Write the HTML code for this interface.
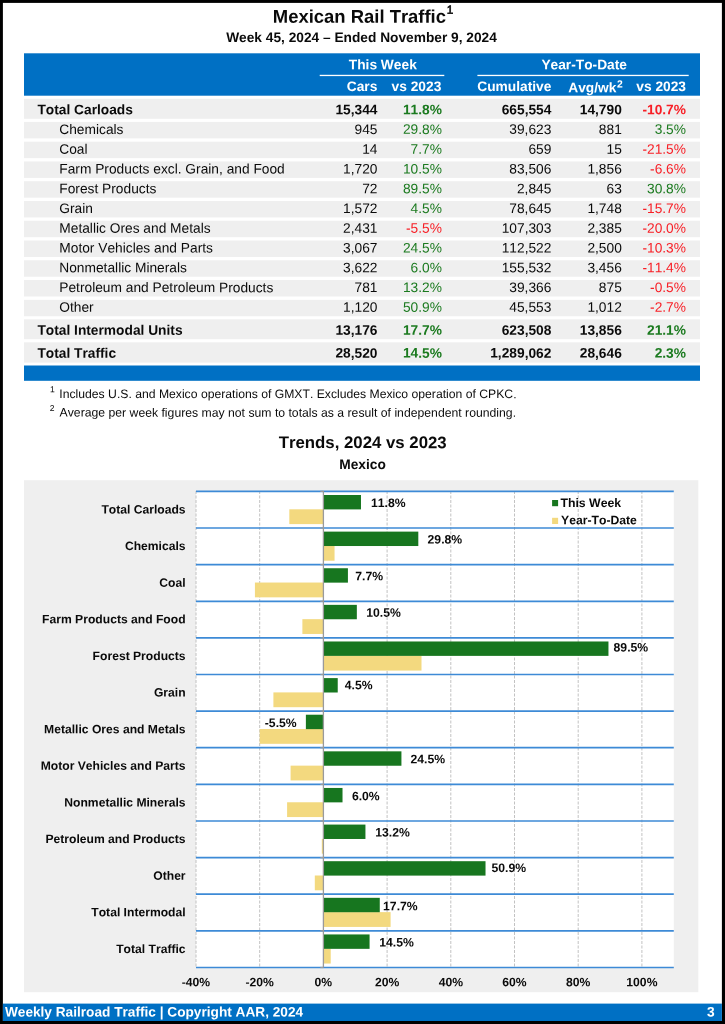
<!DOCTYPE html>
<html lang="en"><head><meta charset="utf-8"><title>Mexican Rail Traffic</title>
<style>
html,body{margin:0;padding:0;background:#fff;}
body{width:725px;height:1024px;position:relative;overflow:hidden;}
#page{position:absolute;left:0;top:0;width:725px;height:1024px;will-change:transform;}
svg{position:absolute;left:0;top:0;display:block;}
svg text{font-family:"Liberation Sans",sans-serif;white-space:pre;font-variant-ligatures:none;font-kerning:none;}
</style></head><body>
<div id="page">
<svg width="725" height="1024" viewBox="0 0 725 1024" font-size="13.75" fill="#0a0a0a">
<rect x="0.00" y="0.00" width="725.00" height="2.90" fill="#000"/>
<rect x="0.00" y="1021.00" width="725.00" height="3.00" fill="#000"/>
<rect x="0.00" y="0.00" width="2.90" height="1024.00" fill="#000"/>
<rect x="721.90" y="0.00" width="3.10" height="1024.00" fill="#000"/>
<text x="359.40" y="22.80" transform="rotate(0.03 359.40 22.80)" text-anchor="middle" font-weight="bold" font-size="18.45">Mexican Rail Traffic</text>
<text x="446.70" y="13.80" transform="rotate(0.03 446.7 13.8)" font-size="11.8" stroke="#0a0a0a" stroke-width="0.55">1</text>
<text x="361.50" y="42.00" transform="rotate(0.03 361.50 42.00)" text-anchor="middle" font-weight="bold" font-size="13.72">Week 45, 2024 – Ended November 9, 2024</text>
<rect x="24.00" y="53.30" width="676.00" height="42.40" fill="#0070c4"/>
<rect x="319.70" y="74.80" width="124.60" height="1.30" fill="#fff"/>
<rect x="477.40" y="74.80" width="211.30" height="1.30" fill="#fff"/>
<text x="382.80" y="69.30" transform="rotate(0.03 382.80 69.30)" text-anchor="middle" font-weight="bold" fill="#fff">This Week</text>
<text x="584.20" y="69.30" transform="rotate(0.03 584.20 69.30)" text-anchor="middle" font-weight="bold" fill="#fff">Year-To-Date</text>
<text x="377.30" y="91.10" transform="rotate(0.03 377.30 91.10)" text-anchor="end" font-weight="bold" fill="#fff">Cars</text>
<text x="441.30" y="91.10" transform="rotate(0.03 441.30 91.10)" text-anchor="end" font-weight="bold" fill="#fff">vs 2023</text>
<text x="551.40" y="91.10" transform="rotate(0.03 551.40 91.10)" text-anchor="end" font-weight="bold" fill="#fff">Cumulative</text>
<text x="616.40" y="92.20" transform="rotate(0.03 616.40 92.20)" text-anchor="end" font-weight="bold" fill="#fff">Avg/wk</text>
<text x="617.00" y="87.50" transform="rotate(0.03 617.00 87.50)" font-weight="bold" fill="#fff" font-size="10.3">2</text>
<text x="686.00" y="91.10" transform="rotate(0.03 686.00 91.10)" text-anchor="end" font-weight="bold" fill="#fff">vs 2023</text>
<rect x="24.00" y="98.80" width="676.00" height="20.00" fill="#efefef"/>
<text x="37.40" y="114.25" transform="rotate(0.03 37.40 114.25)" font-weight="bold">Total Carloads</text>
<text x="377.50" y="114.25" transform="rotate(0.03 377.50 114.25)" text-anchor="end" font-weight="bold">15,344</text>
<text x="441.90" y="114.25" transform="rotate(0.03 441.90 114.25)" text-anchor="end" font-weight="bold" fill="#1b7a1f">11.8%</text>
<text x="551.40" y="114.25" transform="rotate(0.03 551.40 114.25)" text-anchor="end" font-weight="bold">665,554</text>
<text x="621.80" y="114.25" transform="rotate(0.03 621.80 114.25)" text-anchor="end" font-weight="bold">14,790</text>
<text x="686.00" y="114.25" transform="rotate(0.03 686.00 114.25)" text-anchor="end" font-weight="bold" fill="#f81e25">-10.7%</text>
<rect x="24.00" y="121.90" width="676.00" height="16.45" fill="#efefef"/>
<text x="59.30" y="133.90" transform="rotate(0.03 59.30 133.90)" >Chemicals</text>
<text x="377.50" y="133.90" transform="rotate(0.03 377.50 133.90)" text-anchor="end">945</text>
<text x="441.90" y="133.90" transform="rotate(0.03 441.90 133.90)" text-anchor="end" fill="#1b7a1f">29.8%</text>
<text x="551.40" y="133.90" transform="rotate(0.03 551.40 133.90)" text-anchor="end">39,623</text>
<text x="621.80" y="133.90" transform="rotate(0.03 621.80 133.90)" text-anchor="end">881</text>
<text x="686.00" y="133.90" transform="rotate(0.03 686.00 133.90)" text-anchor="end" fill="#1b7a1f">3.5%</text>
<rect x="24.00" y="141.67" width="676.00" height="16.45" fill="#efefef"/>
<text x="59.30" y="153.67" transform="rotate(0.03 59.30 153.67)" >Coal</text>
<text x="377.50" y="153.67" transform="rotate(0.03 377.50 153.67)" text-anchor="end">14</text>
<text x="441.90" y="153.67" transform="rotate(0.03 441.90 153.67)" text-anchor="end" fill="#1b7a1f">7.7%</text>
<text x="551.40" y="153.67" transform="rotate(0.03 551.40 153.67)" text-anchor="end">659</text>
<text x="621.80" y="153.67" transform="rotate(0.03 621.80 153.67)" text-anchor="end">15</text>
<text x="686.00" y="153.67" transform="rotate(0.03 686.00 153.67)" text-anchor="end" fill="#f81e25">-21.5%</text>
<rect x="24.00" y="161.44" width="676.00" height="16.45" fill="#efefef"/>
<text x="59.30" y="173.44" transform="rotate(0.03 59.30 173.44)" >Farm Products excl. Grain, and Food</text>
<text x="377.50" y="173.44" transform="rotate(0.03 377.50 173.44)" text-anchor="end">1,720</text>
<text x="441.90" y="173.44" transform="rotate(0.03 441.90 173.44)" text-anchor="end" fill="#1b7a1f">10.5%</text>
<text x="551.40" y="173.44" transform="rotate(0.03 551.40 173.44)" text-anchor="end">83,506</text>
<text x="621.80" y="173.44" transform="rotate(0.03 621.80 173.44)" text-anchor="end">1,856</text>
<text x="686.00" y="173.44" transform="rotate(0.03 686.00 173.44)" text-anchor="end" fill="#f81e25">-6.6%</text>
<rect x="24.00" y="181.21" width="676.00" height="16.45" fill="#efefef"/>
<text x="59.30" y="193.21" transform="rotate(0.03 59.30 193.21)" >Forest Products</text>
<text x="377.50" y="193.21" transform="rotate(0.03 377.50 193.21)" text-anchor="end">72</text>
<text x="441.90" y="193.21" transform="rotate(0.03 441.90 193.21)" text-anchor="end" fill="#1b7a1f">89.5%</text>
<text x="551.40" y="193.21" transform="rotate(0.03 551.40 193.21)" text-anchor="end">2,845</text>
<text x="621.80" y="193.21" transform="rotate(0.03 621.80 193.21)" text-anchor="end">63</text>
<text x="686.00" y="193.21" transform="rotate(0.03 686.00 193.21)" text-anchor="end" fill="#1b7a1f">30.8%</text>
<rect x="24.00" y="200.98" width="676.00" height="16.45" fill="#efefef"/>
<text x="59.30" y="212.98" transform="rotate(0.03 59.30 212.98)" >Grain</text>
<text x="377.50" y="212.98" transform="rotate(0.03 377.50 212.98)" text-anchor="end">1,572</text>
<text x="441.90" y="212.98" transform="rotate(0.03 441.90 212.98)" text-anchor="end" fill="#1b7a1f">4.5%</text>
<text x="551.40" y="212.98" transform="rotate(0.03 551.40 212.98)" text-anchor="end">78,645</text>
<text x="621.80" y="212.98" transform="rotate(0.03 621.80 212.98)" text-anchor="end">1,748</text>
<text x="686.00" y="212.98" transform="rotate(0.03 686.00 212.98)" text-anchor="end" fill="#f81e25">-15.7%</text>
<rect x="24.00" y="220.75" width="676.00" height="16.45" fill="#efefef"/>
<text x="59.30" y="232.75" transform="rotate(0.03 59.30 232.75)" >Metallic Ores and Metals</text>
<text x="377.50" y="232.75" transform="rotate(0.03 377.50 232.75)" text-anchor="end">2,431</text>
<text x="441.90" y="232.75" transform="rotate(0.03 441.90 232.75)" text-anchor="end" fill="#f81e25">-5.5%</text>
<text x="551.40" y="232.75" transform="rotate(0.03 551.40 232.75)" text-anchor="end">107,303</text>
<text x="621.80" y="232.75" transform="rotate(0.03 621.80 232.75)" text-anchor="end">2,385</text>
<text x="686.00" y="232.75" transform="rotate(0.03 686.00 232.75)" text-anchor="end" fill="#f81e25">-20.0%</text>
<rect x="24.00" y="240.52" width="676.00" height="16.45" fill="#efefef"/>
<text x="59.30" y="252.52" transform="rotate(0.03 59.30 252.52)" >Motor Vehicles and Parts</text>
<text x="377.50" y="252.52" transform="rotate(0.03 377.50 252.52)" text-anchor="end">3,067</text>
<text x="441.90" y="252.52" transform="rotate(0.03 441.90 252.52)" text-anchor="end" fill="#1b7a1f">24.5%</text>
<text x="551.40" y="252.52" transform="rotate(0.03 551.40 252.52)" text-anchor="end">112,522</text>
<text x="621.80" y="252.52" transform="rotate(0.03 621.80 252.52)" text-anchor="end">2,500</text>
<text x="686.00" y="252.52" transform="rotate(0.03 686.00 252.52)" text-anchor="end" fill="#f81e25">-10.3%</text>
<rect x="24.00" y="260.29" width="676.00" height="16.45" fill="#efefef"/>
<text x="59.30" y="272.29" transform="rotate(0.03 59.30 272.29)" >Nonmetallic Minerals</text>
<text x="377.50" y="272.29" transform="rotate(0.03 377.50 272.29)" text-anchor="end">3,622</text>
<text x="441.90" y="272.29" transform="rotate(0.03 441.90 272.29)" text-anchor="end" fill="#1b7a1f">6.0%</text>
<text x="551.40" y="272.29" transform="rotate(0.03 551.40 272.29)" text-anchor="end">155,532</text>
<text x="621.80" y="272.29" transform="rotate(0.03 621.80 272.29)" text-anchor="end">3,456</text>
<text x="686.00" y="272.29" transform="rotate(0.03 686.00 272.29)" text-anchor="end" fill="#f81e25">-11.4%</text>
<rect x="24.00" y="280.06" width="676.00" height="16.45" fill="#efefef"/>
<text x="59.30" y="292.06" transform="rotate(0.03 59.30 292.06)" >Petroleum and Petroleum Products</text>
<text x="377.50" y="292.06" transform="rotate(0.03 377.50 292.06)" text-anchor="end">781</text>
<text x="441.90" y="292.06" transform="rotate(0.03 441.90 292.06)" text-anchor="end" fill="#1b7a1f">13.2%</text>
<text x="551.40" y="292.06" transform="rotate(0.03 551.40 292.06)" text-anchor="end">39,366</text>
<text x="621.80" y="292.06" transform="rotate(0.03 621.80 292.06)" text-anchor="end">875</text>
<text x="686.00" y="292.06" transform="rotate(0.03 686.00 292.06)" text-anchor="end" fill="#f81e25">-0.5%</text>
<rect x="24.00" y="299.83" width="676.00" height="16.45" fill="#efefef"/>
<text x="59.30" y="311.83" transform="rotate(0.03 59.30 311.83)" >Other</text>
<text x="377.50" y="311.83" transform="rotate(0.03 377.50 311.83)" text-anchor="end">1,120</text>
<text x="441.90" y="311.83" transform="rotate(0.03 441.90 311.83)" text-anchor="end" fill="#1b7a1f">50.9%</text>
<text x="551.40" y="311.83" transform="rotate(0.03 551.40 311.83)" text-anchor="end">45,553</text>
<text x="621.80" y="311.83" transform="rotate(0.03 621.80 311.83)" text-anchor="end">1,012</text>
<text x="686.00" y="311.83" transform="rotate(0.03 686.00 311.83)" text-anchor="end" fill="#f81e25">-2.7%</text>
<rect x="24.00" y="319.30" width="676.00" height="19.90" fill="#efefef"/>
<text x="37.40" y="334.70" transform="rotate(0.03 37.40 334.70)" font-weight="bold">Total Intermodal Units</text>
<text x="377.50" y="334.70" transform="rotate(0.03 377.50 334.70)" text-anchor="end" font-weight="bold">13,176</text>
<text x="441.90" y="334.70" transform="rotate(0.03 441.90 334.70)" text-anchor="end" font-weight="bold" fill="#1b7a1f">17.7%</text>
<text x="551.40" y="334.70" transform="rotate(0.03 551.40 334.70)" text-anchor="end" font-weight="bold">623,508</text>
<text x="621.80" y="334.70" transform="rotate(0.03 621.80 334.70)" text-anchor="end" font-weight="bold">13,856</text>
<text x="686.00" y="334.70" transform="rotate(0.03 686.00 334.70)" text-anchor="end" font-weight="bold" fill="#1b7a1f">21.1%</text>
<rect x="24.00" y="342.30" width="676.00" height="20.30" fill="#efefef"/>
<text x="37.40" y="357.65" transform="rotate(0.03 37.40 357.65)" font-weight="bold">Total Traffic</text>
<text x="377.50" y="357.65" transform="rotate(0.03 377.50 357.65)" text-anchor="end" font-weight="bold">28,520</text>
<text x="441.90" y="357.65" transform="rotate(0.03 441.90 357.65)" text-anchor="end" font-weight="bold" fill="#1b7a1f">14.5%</text>
<text x="551.40" y="357.65" transform="rotate(0.03 551.40 357.65)" text-anchor="end" font-weight="bold">1,289,062</text>
<text x="621.80" y="357.65" transform="rotate(0.03 621.80 357.65)" text-anchor="end" font-weight="bold">28,646</text>
<text x="686.00" y="357.65" transform="rotate(0.03 686.00 357.65)" text-anchor="end" font-weight="bold" fill="#1b7a1f">2.3%</text>
<rect x="24.00" y="365.50" width="676.00" height="15.30" fill="#0070c4"/>
<text x="50.10" y="392.30" transform="rotate(0.03 50.10 392.30)" font-size="8.6">1</text>
<text x="59.30" y="397.90" transform="rotate(0.03 59.30 397.90)" font-size="12.2">Includes U.S. and Mexico operations of GMXT. Excludes Mexico operation of CPKC.</text>
<text x="49.70" y="411.10" transform="rotate(0.03 49.70 411.10)" font-size="8.6">2</text>
<text x="59.60" y="416.60" transform="rotate(0.03 59.60 416.60)" font-size="12.23">Average per week figures may not sum to totals as a result of independent rounding.</text>
<text x="362.70" y="448.10" transform="rotate(0.03 362.70 448.10)" text-anchor="middle" font-weight="bold" font-size="16.8">Trends, 2024 vs 2023</text>
<text x="362.50" y="469.00" transform="rotate(0.03 362.50 469.00)" text-anchor="middle" font-weight="bold">Mexico</text>
<rect x="24.00" y="480.20" width="674.30" height="512.00" fill="#efefef"/>
<rect x="196.00" y="491.00" width="477.80" height="476.20" fill="#fff"/>
<line x1="196.0" y1="491" x2="196.0" y2="967.2" stroke="#c2c2c2" stroke-width="1" stroke-dasharray="3,1.5"/>
<line x1="259.7" y1="491" x2="259.7" y2="967.2" stroke="#c2c2c2" stroke-width="1" stroke-dasharray="3,1.5"/>
<line x1="387.1" y1="491" x2="387.1" y2="967.2" stroke="#c2c2c2" stroke-width="1" stroke-dasharray="3,1.5"/>
<line x1="450.8" y1="491" x2="450.8" y2="967.2" stroke="#c2c2c2" stroke-width="1" stroke-dasharray="3,1.5"/>
<line x1="514.5" y1="491" x2="514.5" y2="967.2" stroke="#c2c2c2" stroke-width="1" stroke-dasharray="3,1.5"/>
<line x1="578.2" y1="491" x2="578.2" y2="967.2" stroke="#c2c2c2" stroke-width="1" stroke-dasharray="3,1.5"/>
<line x1="641.9" y1="491" x2="641.9" y2="967.2" stroke="#c2c2c2" stroke-width="1" stroke-dasharray="3,1.5"/>
<rect x="289.32" y="509.30" width="34.08" height="14.80" fill="#f3d97f"/>
<rect x="323.40" y="495.00" width="37.58" height="14.40" fill="#17761f"/>
<rect x="323.40" y="545.92" width="11.15" height="14.80" fill="#f3d97f"/>
<rect x="323.40" y="531.62" width="94.91" height="14.40" fill="#17761f"/>
<rect x="254.92" y="582.54" width="68.48" height="14.80" fill="#f3d97f"/>
<rect x="323.40" y="568.24" width="24.52" height="14.40" fill="#17761f"/>
<rect x="302.38" y="619.16" width="21.02" height="14.80" fill="#f3d97f"/>
<rect x="323.40" y="604.86" width="33.44" height="14.40" fill="#17761f"/>
<rect x="323.40" y="655.78" width="98.10" height="14.80" fill="#f3d97f"/>
<rect x="323.40" y="641.48" width="285.06" height="14.40" fill="#17761f"/>
<rect x="273.40" y="692.40" width="50.00" height="14.80" fill="#f3d97f"/>
<rect x="323.40" y="678.10" width="14.33" height="14.40" fill="#17761f"/>
<rect x="259.70" y="729.02" width="63.70" height="14.80" fill="#f3d97f"/>
<rect x="305.88" y="714.72" width="17.52" height="14.40" fill="#17761f"/>
<rect x="290.59" y="765.64" width="32.81" height="14.80" fill="#f3d97f"/>
<rect x="323.40" y="751.34" width="78.03" height="14.40" fill="#17761f"/>
<rect x="287.09" y="802.26" width="36.31" height="14.80" fill="#f3d97f"/>
<rect x="323.40" y="787.96" width="19.11" height="14.40" fill="#17761f"/>
<rect x="321.81" y="838.88" width="1.59" height="14.80" fill="#f3d97f"/>
<rect x="323.40" y="824.58" width="42.04" height="14.40" fill="#17761f"/>
<rect x="314.80" y="875.50" width="8.60" height="14.80" fill="#f3d97f"/>
<rect x="323.40" y="861.20" width="162.12" height="14.40" fill="#17761f"/>
<rect x="323.40" y="912.12" width="67.20" height="14.80" fill="#f3d97f"/>
<rect x="323.40" y="897.82" width="56.37" height="14.40" fill="#17761f"/>
<rect x="323.40" y="948.74" width="7.33" height="14.80" fill="#f3d97f"/>
<rect x="323.40" y="934.44" width="46.18" height="14.40" fill="#17761f"/>
<line x1="196" y1="491.4" x2="673.8" y2="491.4" stroke="#3d8ad6" stroke-width="1.7"/>
<line x1="196" y1="528.0" x2="673.8" y2="528.0" stroke="#3d8ad6" stroke-width="1.7"/>
<line x1="196" y1="564.6" x2="673.8" y2="564.6" stroke="#3d8ad6" stroke-width="1.7"/>
<line x1="196" y1="601.3" x2="673.8" y2="601.3" stroke="#3d8ad6" stroke-width="1.7"/>
<line x1="196" y1="637.9" x2="673.8" y2="637.9" stroke="#3d8ad6" stroke-width="1.7"/>
<line x1="196" y1="674.5" x2="673.8" y2="674.5" stroke="#3d8ad6" stroke-width="1.7"/>
<line x1="196" y1="711.1" x2="673.8" y2="711.1" stroke="#3d8ad6" stroke-width="1.7"/>
<line x1="196" y1="747.7" x2="673.8" y2="747.7" stroke="#3d8ad6" stroke-width="1.7"/>
<line x1="196" y1="784.4" x2="673.8" y2="784.4" stroke="#3d8ad6" stroke-width="1.7"/>
<line x1="196" y1="821.0" x2="673.8" y2="821.0" stroke="#3d8ad6" stroke-width="1.7"/>
<line x1="196" y1="857.6" x2="673.8" y2="857.6" stroke="#3d8ad6" stroke-width="1.7"/>
<line x1="196" y1="894.2" x2="673.8" y2="894.2" stroke="#3d8ad6" stroke-width="1.7"/>
<line x1="196" y1="930.8" x2="673.8" y2="930.8" stroke="#3d8ad6" stroke-width="1.7"/>
<line x1="196" y1="967.5" x2="673.8" y2="967.5" stroke="#3d8ad6" stroke-width="1.7"/>
<line x1="323.4" y1="491" x2="323.4" y2="967.2" stroke="#9a9a9a" stroke-width="1.3"/>
<line x1="320.4" y1="491.4" x2="323.4" y2="491.4" stroke="#9a9a9a" stroke-width="1.2"/>
<line x1="320.4" y1="528.0" x2="323.4" y2="528.0" stroke="#9a9a9a" stroke-width="1.2"/>
<line x1="320.4" y1="564.6" x2="323.4" y2="564.6" stroke="#9a9a9a" stroke-width="1.2"/>
<line x1="320.4" y1="601.3" x2="323.4" y2="601.3" stroke="#9a9a9a" stroke-width="1.2"/>
<line x1="320.4" y1="637.9" x2="323.4" y2="637.9" stroke="#9a9a9a" stroke-width="1.2"/>
<line x1="320.4" y1="674.5" x2="323.4" y2="674.5" stroke="#9a9a9a" stroke-width="1.2"/>
<line x1="320.4" y1="711.1" x2="323.4" y2="711.1" stroke="#9a9a9a" stroke-width="1.2"/>
<line x1="320.4" y1="747.7" x2="323.4" y2="747.7" stroke="#9a9a9a" stroke-width="1.2"/>
<line x1="320.4" y1="784.4" x2="323.4" y2="784.4" stroke="#9a9a9a" stroke-width="1.2"/>
<line x1="320.4" y1="821.0" x2="323.4" y2="821.0" stroke="#9a9a9a" stroke-width="1.2"/>
<line x1="320.4" y1="857.6" x2="323.4" y2="857.6" stroke="#9a9a9a" stroke-width="1.2"/>
<line x1="320.4" y1="894.2" x2="323.4" y2="894.2" stroke="#9a9a9a" stroke-width="1.2"/>
<line x1="320.4" y1="930.8" x2="323.4" y2="930.8" stroke="#9a9a9a" stroke-width="1.2"/>
<line x1="320.4" y1="967.5" x2="323.4" y2="967.5" stroke="#9a9a9a" stroke-width="1.2"/>
<text x="185.60" y="513.50" transform="rotate(0.03 185.60 513.50)" text-anchor="end" font-weight="bold" font-size="12.14">Total Carloads</text>
<text x="371.00" y="507.00" transform="rotate(0.03 371.00 507.00)" font-weight="bold" font-size="12.2">11.8%</text>
<text x="185.60" y="550.12" transform="rotate(0.03 185.60 550.12)" text-anchor="end" font-weight="bold" font-size="12.14">Chemicals</text>
<text x="427.60" y="543.62" transform="rotate(0.03 427.60 543.62)" font-weight="bold" font-size="12.2">29.8%</text>
<text x="185.60" y="586.74" transform="rotate(0.03 185.60 586.74)" text-anchor="end" font-weight="bold" font-size="12.14">Coal</text>
<text x="355.30" y="580.24" transform="rotate(0.03 355.30 580.24)" font-weight="bold" font-size="12.2">7.7%</text>
<text x="185.60" y="623.36" transform="rotate(0.03 185.60 623.36)" text-anchor="end" font-weight="bold" font-size="12.14">Farm Products and Food</text>
<text x="366.30" y="616.86" transform="rotate(0.03 366.30 616.86)" font-weight="bold" font-size="12.2">10.5%</text>
<text x="185.60" y="659.98" transform="rotate(0.03 185.60 659.98)" text-anchor="end" font-weight="bold" font-size="12.14">Forest Products</text>
<text x="613.60" y="651.48" transform="rotate(0.03 613.60 651.48)" font-weight="bold" font-size="12.2">89.5%</text>
<text x="185.60" y="696.60" transform="rotate(0.03 185.60 696.60)" text-anchor="end" font-weight="bold" font-size="12.14">Grain</text>
<text x="344.80" y="689.30" transform="rotate(0.03 344.80 689.30)" font-weight="bold" font-size="12.2">4.5%</text>
<text x="185.60" y="733.22" transform="rotate(0.03 185.60 733.22)" text-anchor="end" font-weight="bold" font-size="12.14">Metallic Ores and Metals</text>
<text x="264.80" y="727.12" transform="rotate(0.03 264.80 727.12)" font-weight="bold" font-size="12.2">-5.5%</text>
<text x="185.60" y="769.84" transform="rotate(0.03 185.60 769.84)" text-anchor="end" font-weight="bold" font-size="12.14">Motor Vehicles and Parts</text>
<text x="410.50" y="763.34" transform="rotate(0.03 410.50 763.34)" font-weight="bold" font-size="12.2">24.5%</text>
<text x="185.60" y="806.46" transform="rotate(0.03 185.60 806.46)" text-anchor="end" font-weight="bold" font-size="12.14">Nonmetallic Minerals</text>
<text x="351.90" y="800.36" transform="rotate(0.03 351.90 800.36)" font-weight="bold" font-size="12.2">6.0%</text>
<text x="185.60" y="843.08" transform="rotate(0.03 185.60 843.08)" text-anchor="end" font-weight="bold" font-size="12.14">Petroleum and Products</text>
<text x="375.20" y="836.38" transform="rotate(0.03 375.20 836.38)" font-weight="bold" font-size="12.2">13.2%</text>
<text x="185.60" y="879.70" transform="rotate(0.03 185.60 879.70)" text-anchor="end" font-weight="bold" font-size="12.14">Other</text>
<text x="491.50" y="871.90" transform="rotate(0.03 491.50 871.90)" font-weight="bold" font-size="12.2">50.9%</text>
<text x="185.60" y="916.32" transform="rotate(0.03 185.60 916.32)" text-anchor="end" font-weight="bold" font-size="12.14">Total Intermodal</text>
<text x="383.10" y="910.22" transform="rotate(0.03 383.10 910.22)" font-weight="bold" font-size="12.2">17.7%</text>
<text x="185.60" y="952.94" transform="rotate(0.03 185.60 952.94)" text-anchor="end" font-weight="bold" font-size="12.14">Total Traffic</text>
<text x="379.20" y="946.44" transform="rotate(0.03 379.20 946.44)" font-weight="bold" font-size="12.2">14.5%</text>
<text x="196.00" y="986.30" transform="rotate(0.03 196.00 986.30)" text-anchor="middle" font-weight="bold" font-size="12.16">-40%</text>
<text x="259.70" y="986.30" transform="rotate(0.03 259.70 986.30)" text-anchor="middle" font-weight="bold" font-size="12.16">-20%</text>
<text x="323.40" y="986.30" transform="rotate(0.03 323.40 986.30)" text-anchor="middle" font-weight="bold" font-size="12.16">0%</text>
<text x="387.10" y="986.30" transform="rotate(0.03 387.10 986.30)" text-anchor="middle" font-weight="bold" font-size="12.16">20%</text>
<text x="450.80" y="986.30" transform="rotate(0.03 450.80 986.30)" text-anchor="middle" font-weight="bold" font-size="12.16">40%</text>
<text x="514.50" y="986.30" transform="rotate(0.03 514.50 986.30)" text-anchor="middle" font-weight="bold" font-size="12.16">60%</text>
<text x="578.20" y="986.30" transform="rotate(0.03 578.20 986.30)" text-anchor="middle" font-weight="bold" font-size="12.16">80%</text>
<text x="641.90" y="986.30" transform="rotate(0.03 641.90 986.30)" text-anchor="middle" font-weight="bold" font-size="12.16">100%</text>
<rect x="552.10" y="500.00" width="6.00" height="6.20" fill="#17761f"/>
<rect x="552.10" y="517.80" width="6.00" height="6.20" fill="#f3d97f"/>
<text x="560.40" y="507.00" transform="rotate(0.03 560.40 507.00)" font-weight="bold" font-size="12.3">This Week</text>
<text x="561.00" y="524.30" transform="rotate(0.03 561.00 524.30)" font-weight="bold" font-size="12.2">Year-To-Date</text>
<rect x="2.90" y="1003.60" width="719.00" height="17.40" fill="#0070c4"/>
<text x="4.90" y="1016.40" transform="rotate(0.03 4.90 1016.40)" font-weight="bold" fill="#fff" font-size="13.66">Weekly Railroad Traffic | Copyright AAR, 2024</text>
<text x="714.70" y="1016.40" transform="rotate(0.03 714.70 1016.40)" text-anchor="end" font-weight="bold" fill="#fff">3</text>
</svg>
</div>
</body></html>
